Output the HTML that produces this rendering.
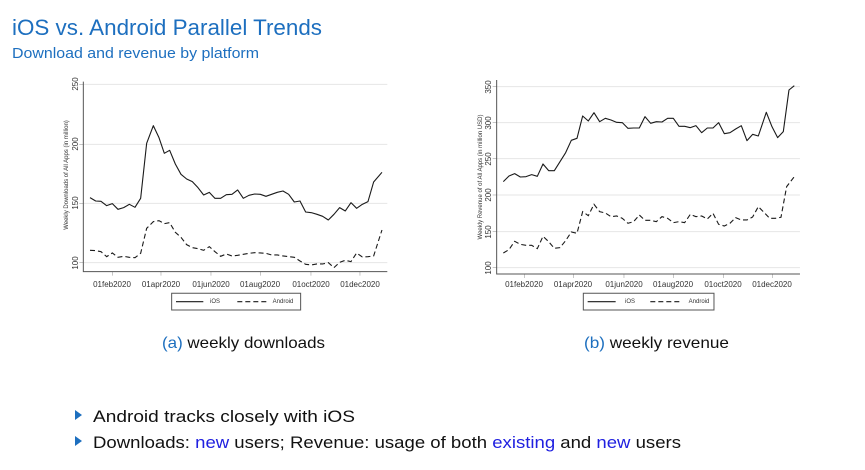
<!DOCTYPE html>
<html><head><meta charset="utf-8"><style>
html,body{margin:0;padding:0;background:#fff;}
svg{display:block;font-family:"Liberation Sans",sans-serif;}
.ln{fill:none;stroke:#1a1a1a;stroke-width:1.1;vector-effect:non-scaling-stroke;stroke-linejoin:round}
.dl{fill:none;stroke:#1a1a1a;stroke-width:1.1;stroke-dasharray:5 3;vector-effect:non-scaling-stroke}
.gr{stroke:#e6e6e6;stroke-width:1;vector-effect:non-scaling-stroke}
.ax{stroke:#555;stroke-width:1;vector-effect:non-scaling-stroke;fill:none}
</style></head><body>
<svg width="865" height="470" viewBox="0 0 865 470">
<text x="12" y="35" font-size="22" fill="#1d6fbf" textLength="310" lengthAdjust="spacingAndGlyphs">iOS vs. Android Parallel Trends</text>
<text x="12" y="58" font-size="15" fill="#1d6fbf" textLength="247" lengthAdjust="spacingAndGlyphs">Download and revenue by platform</text>

<!-- Left chart -->
<g transform="translate(50,75) scale(0.3333)">
<line class="gr" x1="100" y1="28" x2="1012" y2="28"/><line class="gr" x1="100" y1="208" x2="1012" y2="208"/><line class="gr" x1="100" y1="385" x2="1012" y2="385"/><line class="gr" x1="100" y1="563" x2="1012" y2="563"/>
<polyline class="ax" points="100,20 100,590 1012,590"/>
<g class="ax"><line x1="88" y1="28" x2="100" y2="28"/><line x1="88" y1="208" x2="100" y2="208"/><line x1="88" y1="385" x2="100" y2="385"/><line x1="88" y1="563" x2="100" y2="563"/>
<line x1="187" y1="590" x2="187" y2="602"/><line x1="333" y1="590" x2="333" y2="602"/><line x1="483" y1="590" x2="483" y2="602"/><line x1="631" y1="590" x2="631" y2="602"/><line x1="783" y1="590" x2="783" y2="602"/><line x1="930" y1="590" x2="930" y2="602"/></g>
<polyline class="ln" points="120,368 137,378 153,379 170,392 187,386 204,403 221,398 238,388 255,397 272,370 290,205 310,152 327,188 343,235 359,226 376,267 393,298 410,312 427,320 444,338 461,360 478,352 495,370 512,370 529,359 546,358 563,345 580,370 597,361 614,357 631,358 648,364 665,358 682,352 699,348 716,358 733,381 750,378 767,411 784,413 801,418 818,424 835,435 852,418 869,398 886,408 903,383 920,400 937,388 954,380 971,321 996,292"/>
<polyline class="dl" points="120,526 137,527 153,530 170,545 187,534 204,547 221,544 238,547 255,548 272,535 290,460 310,440 327,437 343,446 359,443 376,472 393,487 410,509 427,518 444,521 461,526 478,515 495,530 512,544 529,537 546,543 563,541 580,538 597,535 614,533 631,534 648,535 665,540 682,540 699,543 716,545 733,547 750,558 767,568 784,570 801,567 818,567 835,563 852,578 869,562 886,556 903,560 920,534 937,546 954,545 971,543 996,465"/>
<rect class="ax" x="365" y="655" width="387" height="50" stroke="#777"/>
<line class="ln" x1="378" y1="680" x2="460" y2="680"/><line class="dl" x1="562" y1="680" x2="650" y2="680"/>
</g>
<g font-size="8" fill="#333" text-anchor="middle">
<text transform="translate(78,84) rotate(-90)">250</text>
<text transform="translate(78,144) rotate(-90)">200</text>
<text transform="translate(78,203) rotate(-90)">150</text>
<text transform="translate(78,263) rotate(-90)">100</text>
<text transform="translate(68,175) rotate(-90)" font-size="6">Weekly Downloads of All Apps (in million)</text>
<text x="112" y="287">01feb2020</text><text x="161" y="287">01apr2020</text><text x="211" y="287">01jun2020</text><text x="260" y="287">01aug2020</text><text x="311" y="287">01oct2020</text><text x="360" y="287">01dec2020</text>
<text x="215" y="303" font-size="6">iOS</text><text x="283" y="303" font-size="6">Android</text>
</g>

<!-- Right chart -->
<g transform="translate(465,75) scale(0.3333)">
<line class="gr" x1="95" y1="35" x2="1005" y2="35"/><line class="gr" x1="95" y1="143" x2="1005" y2="143"/><line class="gr" x1="95" y1="251" x2="1005" y2="251"/><line class="gr" x1="95" y1="360" x2="1005" y2="360"/><line class="gr" x1="95" y1="470" x2="1005" y2="470"/><line class="gr" x1="95" y1="578" x2="1005" y2="578"/>
<polyline class="ax" points="95,15 95,597 1005,597"/>
<g class="ax"><line x1="83" y1="35" x2="95" y2="35"/><line x1="83" y1="143" x2="95" y2="143"/><line x1="83" y1="251" x2="95" y2="251"/><line x1="83" y1="360" x2="95" y2="360"/><line x1="83" y1="470" x2="95" y2="470"/><line x1="83" y1="578" x2="95" y2="578"/>
<line x1="178" y1="597" x2="178" y2="609"/><line x1="325" y1="597" x2="325" y2="609"/><line x1="477" y1="597" x2="477" y2="609"/><line x1="625" y1="597" x2="625" y2="609"/><line x1="775" y1="597" x2="775" y2="609"/><line x1="922" y1="597" x2="922" y2="609"/></g>
<polyline class="ln" points="115,320 132,303 149,296 166,306 183,305 200,299 217,304 234,267 251,287 268,287 285,260 302,233 319,196 336,190 353,123 370,138 387,113 404,140 421,130 438,135 455,142 472,143 489,160 506,159 523,159 540,125 557,145 574,140 591,141 608,130 625,130 642,154 659,154 676,158 693,152 710,173 727,159 744,159 761,143 778,176 795,173 812,162 829,152 846,197 863,178 880,183 904,112 921,155 938,188 955,170 972,45 988,32"/>
<polyline class="dl" points="115,534 132,524 149,499 166,508 183,511 200,511 217,521 234,484 251,500 268,520 285,518 302,497 319,471 336,475 353,410 370,422 387,388 404,410 421,414 438,425 455,423 472,430 489,445 506,440 523,420 540,436 557,436 574,440 591,425 608,430 625,443 642,440 659,443 676,418 693,425 710,423 727,432 744,415 761,448 778,453 795,445 812,428 829,435 846,435 863,426 880,395 897,412 914,430 931,430 948,427 965,335 988,305"/>
<rect class="ax" x="355" y="655" width="392" height="50" stroke="#777"/>
<line class="ln" x1="368" y1="680" x2="452" y2="680"/><line class="dl" x1="556" y1="680" x2="648" y2="680"/>
</g>
<g font-size="8" fill="#333" text-anchor="middle">
<text transform="translate(491,87) rotate(-90)">350</text>
<text transform="translate(491,123) rotate(-90)">300</text>
<text transform="translate(491,159) rotate(-90)">250</text>
<text transform="translate(491,195) rotate(-90)">200</text>
<text transform="translate(491,232) rotate(-90)">150</text>
<text transform="translate(491,268) rotate(-90)">100</text>
<text transform="translate(482,177) rotate(-90)" font-size="6">Weekly Revenue of of All Apps (in million USD)</text>
<text x="524" y="287">01feb2020</text><text x="573" y="287">01apr2020</text><text x="624" y="287">01jun2020</text><text x="673" y="287">01aug2020</text><text x="723" y="287">01oct2020</text><text x="772" y="287">01dec2020</text>
<text x="630" y="303" font-size="6">iOS</text><text x="699" y="303" font-size="6">Android</text>
</g>

<text x="162" y="348" font-size="16" fill="#111" textLength="163" lengthAdjust="spacingAndGlyphs"><tspan fill="#1d6fbf">(a)</tspan> weekly downloads</text>
<text x="584" y="348" font-size="16" fill="#111" textLength="145" lengthAdjust="spacingAndGlyphs"><tspan fill="#1d6fbf">(b)</tspan> weekly revenue</text>

<polygon points="75,410 75,420 82,415" fill="#1d6fbf"/>
<polygon points="75,436 75,446 82,441" fill="#1d6fbf"/>
<text x="93" y="422" font-size="17" fill="#111" textLength="262" lengthAdjust="spacingAndGlyphs">Android tracks closely with iOS</text>
<text x="93" y="448" font-size="17" fill="#111" textLength="588" lengthAdjust="spacingAndGlyphs">Downloads: <tspan fill="#2020e0">new</tspan> users; Revenue: usage of both <tspan fill="#2020e0">existing</tspan> and <tspan fill="#2020e0">new</tspan> users</text>
</svg>
</body></html>
